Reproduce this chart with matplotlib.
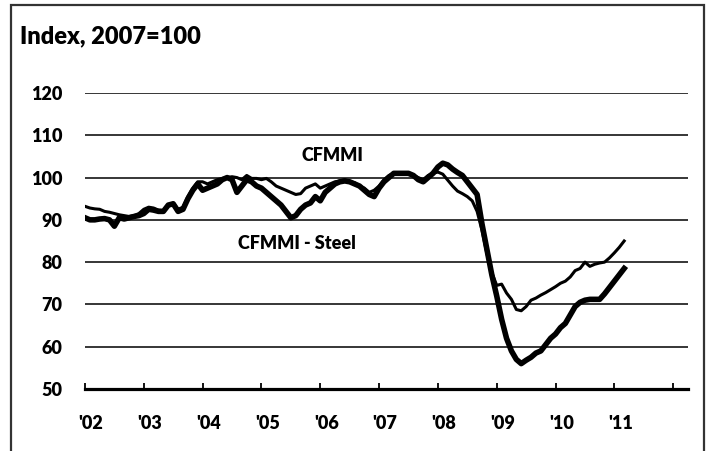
import numpy as np
import matplotlib
matplotlib.use("Agg")
import matplotlib.pyplot as plt
import matplotlib.transforms as mtransforms
from matplotlib.patches import Rectangle

plt.rcParams["font.family"] = ["Lato", "DejaVu Sans"]
plt.rcParams["font.weight"] = "heavy"

# monthly values, Jan 2002 .. Mar 2011
cfmmi = [
    93.2, 92.8, 92.6, 92.5, 92.0, 91.8, 91.5, 91.2, 91.0, 90.8, 91.0, 91.5,   # 2002
    92.5, 93.0, 92.8, 92.3, 92.2, 93.5, 94.0, 92.5, 93.0, 95.5, 97.5, 99.0,   # 2003
    99.0, 98.5, 99.0, 99.5, 99.8, 100.0, 100.2, 100.0, 99.5, 100.5, 99.8, 99.8,  # 2004
    99.5, 99.8, 99.0, 98.0, 97.5, 97.0, 96.5, 96.0, 96.2, 97.5, 98.0, 98.5,   # 2005
    97.5, 98.0, 98.5, 99.0, 99.2, 99.5, 99.0, 98.8, 98.0, 97.5, 96.5, 97.0,   # 2006
    98.0, 99.5, 100.5, 101.0, 101.0, 100.8, 101.0, 100.5, 100.0, 99.5, 100.5, 101.0,  # 2007
    101.3, 100.8, 99.4, 98.0, 96.8, 96.2, 95.5, 94.5, 92.0, 87.5, 82.0, 77.5,  # 2008
    74.5, 74.8, 72.7, 71.2, 68.8, 68.5, 69.5, 71.0, 71.5, 72.2, 72.8, 73.5,   # 2009
    74.2, 75.0, 75.5, 76.5, 78.0, 78.5, 80.0, 79.0, 79.5, 79.8, 80.0, 81.0,   # 2010
    82.2, 83.5, 85.0,                                                         # 2011
]
cfmmi_steel = [
    90.5, 90.0, 90.0, 90.2, 90.3, 90.0, 88.5, 90.5, 90.2, 90.5, 90.8, 91.0,   # 2002
    91.5, 92.5, 92.3, 92.0, 92.0, 93.5, 93.8, 92.0, 92.5, 95.0, 97.0, 98.5,   # 2003
    97.0, 97.5, 98.0, 98.5, 99.5, 100.0, 99.5, 96.5, 98.0, 99.5, 99.0, 98.0,  # 2004
    97.5, 96.5, 95.5, 94.5, 93.5, 92.0, 90.5, 91.0, 92.5, 93.5, 94.0, 95.5,   # 2005
    94.5, 96.5, 97.5, 98.5, 99.0, 99.2, 99.0, 98.5, 98.0, 97.0, 96.0, 95.5,   # 2006
    97.5, 99.0, 100.0, 101.0, 101.0, 101.0, 101.0, 100.5, 99.5, 99.0, 100.0, 101.0,  # 2007
    102.5, 103.4, 103.0, 102.0, 101.2, 100.5, 99.0, 97.5, 96.0, 89.0, 83.0, 77.0,  # 2008
    72.0, 66.5, 62.0, 59.0, 57.0, 56.0, 56.8, 57.5, 58.5, 59.0, 60.5, 62.0,   # 2009
    63.0, 64.5, 65.5, 67.5, 69.5, 70.5, 71.0, 71.2, 71.2, 71.2, 72.5, 74.0,   # 2010
    75.5, 77.0, 78.5,                                                         # 2011
]
years = list(range(2002, 2013))
year_labels = ["'02", "'03", "'04", "'05", "'06", "'07", "'08", "'09", "'10", "'11", ""]
y_ticks = [50, 60, 70, 80, 90, 100, 110, 120]

t = 2002 + np.arange(len(cfmmi)) / 12.0

fig = plt.figure(figsize=(7.11, 4.51), dpi=100)
ax = fig.add_axes([0.1195, 0.1375, 0.848, 0.6563])

ax.plot(t, cfmmi, color="black", lw=2.2, solid_joinstyle="round", zorder=3)
ax.plot(t, cfmmi_steel, color="black", lw=4.0, solid_joinstyle="round", zorder=3)

ax.set_xlim(2002, 2012.25)
ax.set_ylim(50, 120)
ax.set_yticks(y_ticks)
ax.set_xticks(years)
ax.set_xticklabels(year_labels)
ax.yaxis.grid(True, color="black", lw=1.1)
ax.set_axisbelow(True)
for s in ["left", "right", "top"]:
    ax.spines[s].set_visible(False)
ax.spines["bottom"].set_linewidth(2.3)
ax.tick_params(axis="x", direction="in", length=4, width=1.3, pad=19, labelsize=13)
ax.tick_params(axis="y", length=0, pad=16, labelsize=13)
offset = mtransforms.ScaledTranslation(6 / 100, 0, fig.dpi_scale_trans)
for lab in ax.get_xticklabels():
    lab.set_transform(lab.get_transform() + offset)

ax.text(2006.2, 105.3, "CFMMI", ha="center", va="center", fontsize=13)
ax.text(2005.6, 84.5, "CFMMI - Steel", ha="center", va="center", fontsize=13)

fig.text(20 / 711, 1 - 36 / 451, "Index, 2007=100", ha="left", va="center", fontsize=17)

box = Rectangle((11 / 711, -0.05), (704 - 11) / 711, 1 - 5 / 451 + 0.05,
                transform=fig.transFigure, fill=False, edgecolor="#333333", lw=1.6,
                clip_on=False)
fig.patches.append(box)

fig.savefig("out.png", dpi=100)
